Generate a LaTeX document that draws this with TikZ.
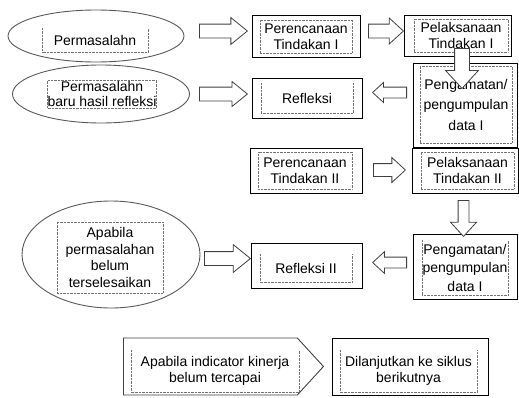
\documentclass[tikz,border=0pt]{standalone}
\usepackage{fontspec}
\setmainfont{Liberation Sans}
\usetikzlibrary{shapes.geometric,shapes.arrows,shapes.symbols}

\begin{document}
\begin{tikzpicture}[x=1pt, y=-1pt, font=\fontsize{14}{16.5}\selectfont,
        box_style/.style={rectangle, draw=black, line width=1pt, inner sep=0pt},
        oval_style/.style={ellipse, draw=black!65, line width=0.9pt, inner sep=0pt},
        txt_style/.style={rectangle, draw=black!55, densely dotted, inner sep=0pt, align=center},
        open_txt_style/.style={rectangle, inner sep=0pt, align=center},
        open_frame_style/.style={draw=black!55, densely dotted},
        arrow_style/.style={single arrow, draw=black!75, fill=white, line width=0.8pt, inner xsep=0pt,
                minimum width=0pt, single arrow tip angle=85, anchor=tail},
        arrow_dims/.style n args={3}{minimum height=#1pt, inner ysep=#2pt, single arrow head extend=#3pt}]

        \useasboundingbox (0,0) rectangle (519,397);

        % siklus I
        \node [oval_style, minimum width=176, minimum height=52] (masalah) at (96,36) {};
        \node [open_txt_style, minimum width=106, minimum height=24] (masalahtxt) at (95,40) {Permasalahn};
        \node [oval_style, minimum width=177, minimum height=58] (masalahbaru) at (101,94) {};
        \node [txt_style, minimum width=106, minimum height=28, font=\fontsize{14}{14.5}\selectfont] (masalahbarutxt) at (102,94) {Permasalahn\\baru hasil refleksi};

        \node [box_style, minimum width=108, minimum height=42] (rencana1) at (306,36) {};
        \node [txt_style, minimum width=92, minimum height=33] (rencana1txt) at (306,36.5) {Perencanaan\\Tindakan I};
        \node [box_style, minimum width=107, minimum height=41] (laksana1) at (457.5,35.5) {};
        \node [txt_style, minimum width=94, minimum height=33] (laksana1txt) at (461,35.5) {Pelaksanaan\\Tindakan I};
        \node [box_style, minimum width=104, minimum height=84] (amati1) at (465,105) {};
        \node [txt_style, minimum width=92, minimum height=77] (amati1txt) at (466,104.5) {Pengamatan/\\[4pt]pengumpulan\\[4pt]data I};
        \node [box_style, minimum width=110, minimum height=40] (refleksi1) at (307,98) {};
        \node [open_txt_style, minimum width=92, minimum height=30] (refleksi1txt) at (307,98) {Refleksi};

        \node [arrow_style, arrow_dims={48}{6.5}{6.5}, single arrow tip angle=78] (panah1) at (199,31) {};
        \node [arrow_style, arrow_dims={48}{6.5}{5.5}, single arrow tip angle=78] (panah2) at (199,94) {};
        \node [arrow_style, arrow_dims={35}{6.5}{6}] (panah3) at (368,31) {};
        \node [arrow_style, arrow_dims={40}{7}{9}, rotate=-90] (panah4) at (462,48) {};
        \node [arrow_style, arrow_dims={34}{5}{4.5}, rotate=180] (panah5) at (407,92.5) {};

        % siklus II
        \node [box_style, minimum width=112, minimum height=45] (rencana2) at (306,170.5) {};
        \node [txt_style, minimum width=94, minimum height=37] (rencana2txt) at (305,170.5) {Perencanaan\\Tindakan II};
        \node [box_style, minimum width=106, minimum height=45] (laksana2) at (465,170.5) {};
        \node [txt_style, minimum width=93, minimum height=37] (laksana2txt) at (467.5,170.5) {Pelaksanaan\\Tindakan II};
        \node [box_style, minimum width=104, minimum height=65] (amati2) at (465,266.5) {};
        \node [open_txt_style, minimum width=86, minimum height=55] (amati2txt) at (465,267.5) {Pengamatan/\\[2pt]pengumpulan\\[2pt]data I};
        \node [box_style, minimum width=111, minimum height=45] (refleksi2) at (306.5,265.5) {};
        \node [open_txt_style, minimum width=92, minimum height=28] (refleksi2txt) at (306,268) {Refleksi II};
        \node [oval_style, minimum width=178, minimum height=107] (belum) at (111,254.5) {};
        \node [txt_style, minimum width=106, minimum height=71] (belumtxt) at (110,257.5) {Apabila\\permasalahan\\belum\\terselesaikan};

        \node [arrow_style, arrow_dims={32}{6}{6}] (panah6) at (373,170) {};
        \node [arrow_style, arrow_dims={36}{5}{7.5}, rotate=-90] (panah7) at (463.5,200) {};
        \node [arrow_style, arrow_dims={34}{5}{5.5}, rotate=180] (panah8) at (407,262.5) {};
        \node [arrow_style, arrow_dims={46}{6.5}{7}, single arrow tip angle=78] (panah9) at (204,258.5) {};

        % keputusan
        \node [signal, signal to=east, signal pointer angle=95, draw=black!75, line width=0.9pt,
                inner sep=0pt, minimum width=200, minimum height=57, anchor=west] (kinerja) at (123,366.5) {};
        \node [open_txt_style, minimum width=168, minimum height=42] (kinerjatxt) at (215,371) {Apabila indicator kinerja\\belum tercapai};
        \node [box_style, minimum width=156, minimum height=57] (lanjut) at (410,366.5) {};
        \node [open_txt_style, minimum width=137, minimum height=42] (lanjuttxt) at (408.5,371) {Dilanjutkan ke siklus\\berikutnya};

        % bingkai titik tanpa sisi atas
        \foreach \t in {masalahtxt, refleksi1txt, amati2txt, refleksi2txt, kinerjatxt, lanjuttxt}
            \draw [open_frame_style] (\t.north west) |- (\t.south east) -- (\t.north east);
\end{tikzpicture}
\end{document}
